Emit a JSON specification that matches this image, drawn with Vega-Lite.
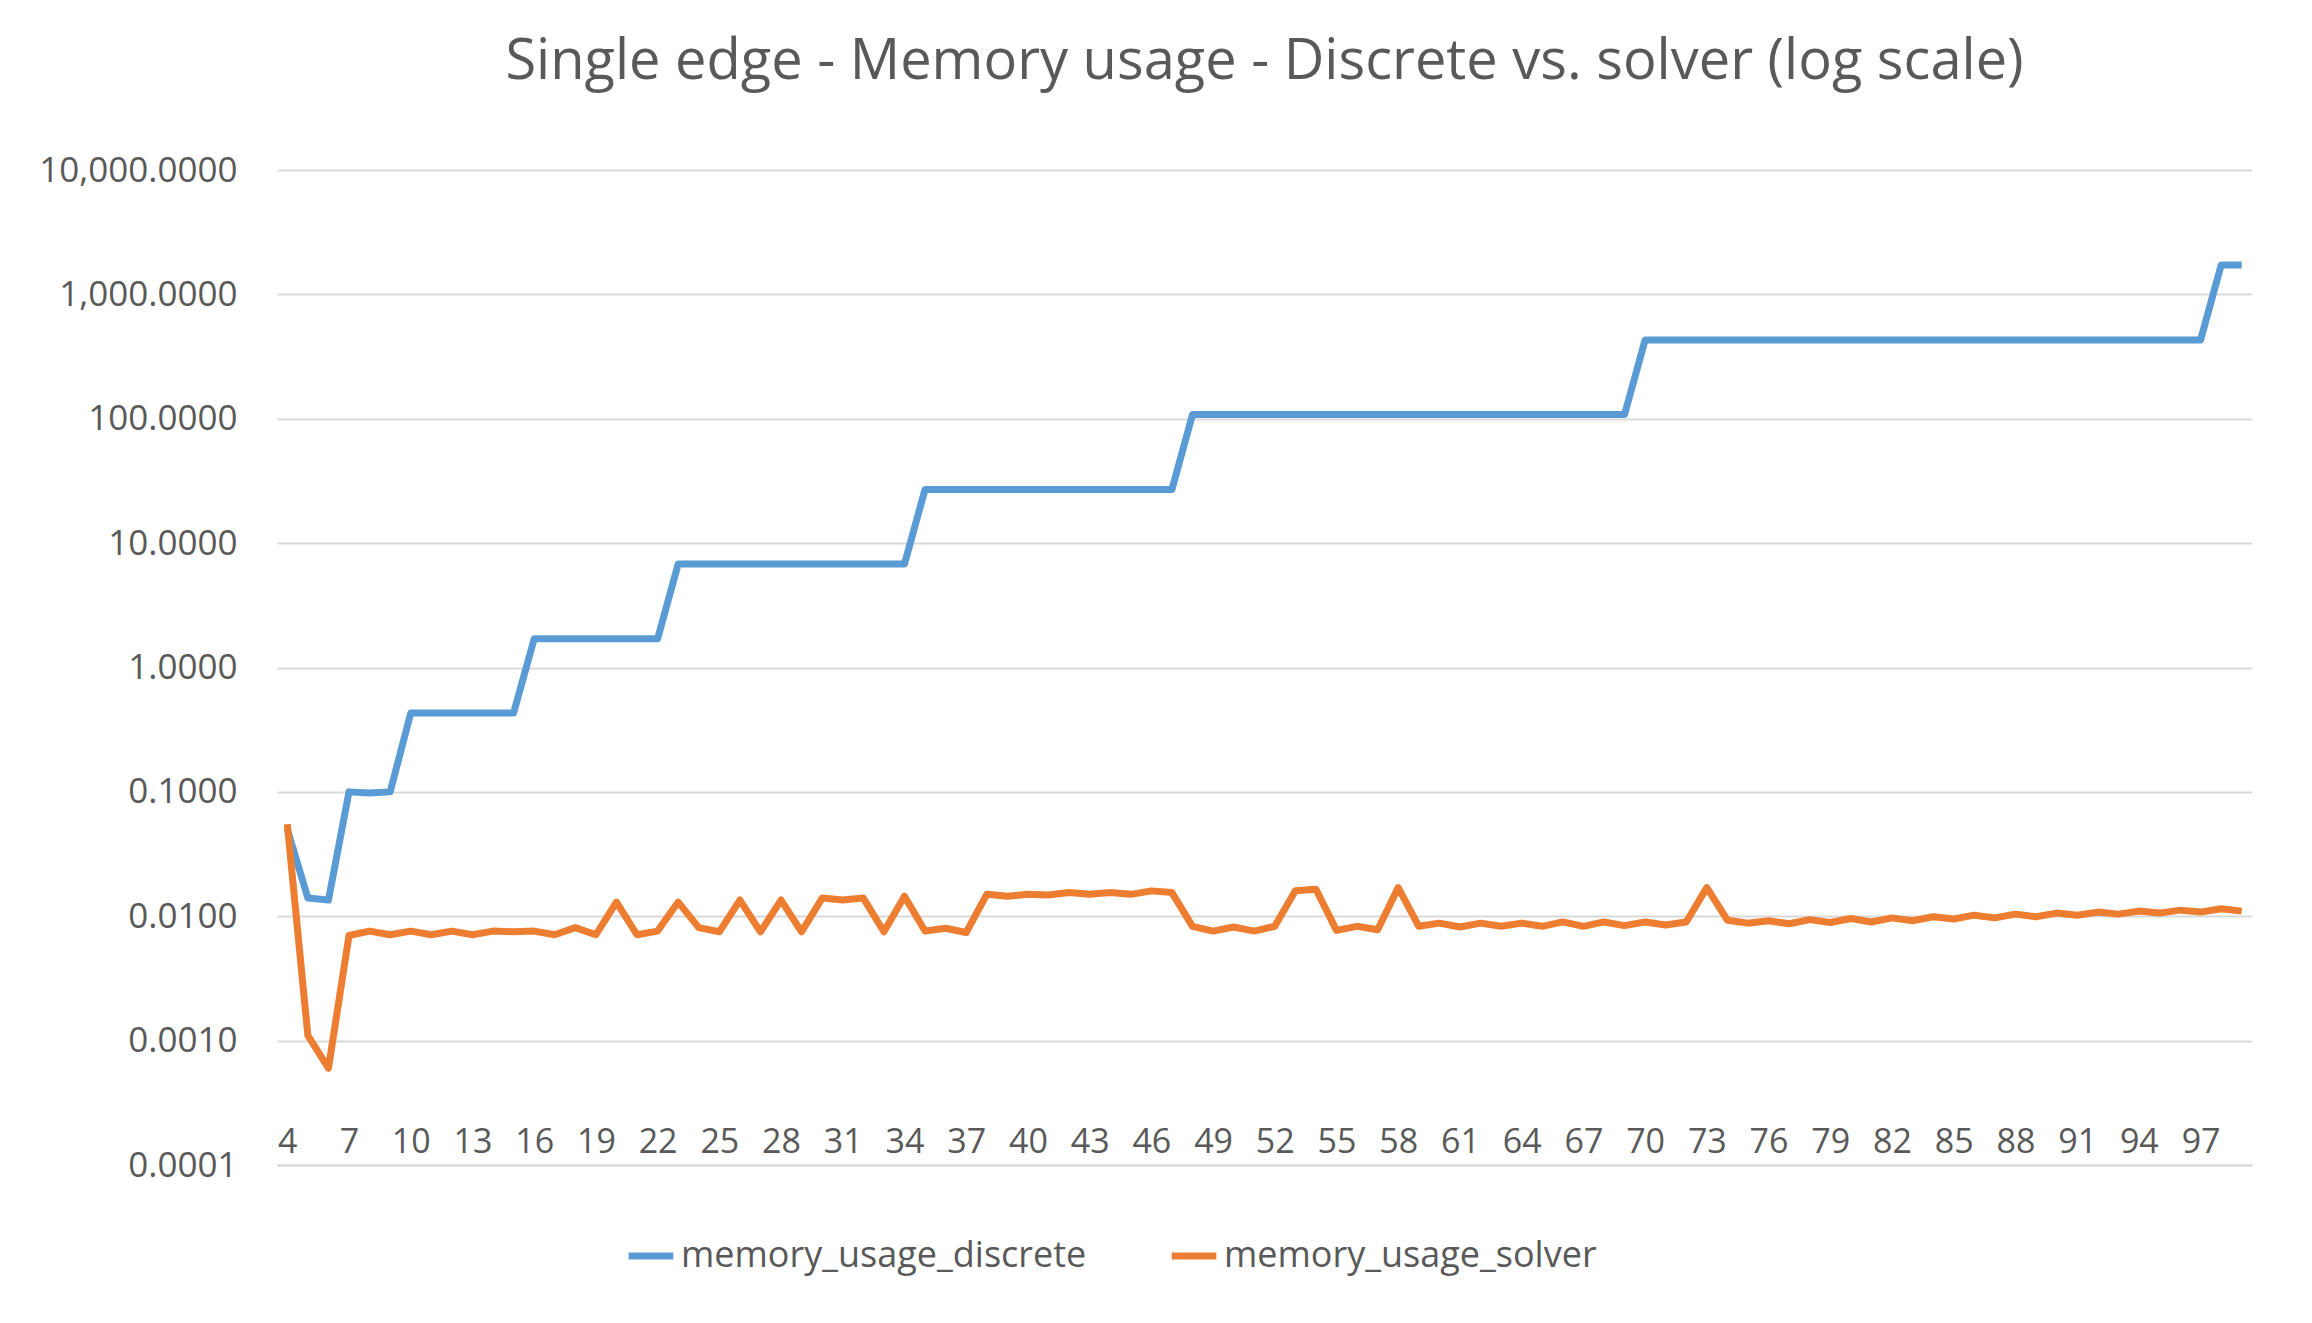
{
  "$schema": "https://vega.github.io/schema/vega-lite/v6.json",
  "width": 1975,
  "height": 995,
  "autosize": "none",
  "padding": {"left": 277, "top": 170, "right": 60, "bottom": 158},
  "background": "white",
  "title": {
    "text": "Single edge - Memory usage - Discrete vs. solver (log scale)",
    "fontSize": 56,
    "font": "Open Sans",
    "fontWeight": "normal",
    "color": "#595959",
    "offset": 62
  },
  "data": {
    "values": [
      {"n":4,"memory_usage_discrete":0.05,"memory_usage_solver":0.055},
      {"n":5,"memory_usage_discrete":0.014,"memory_usage_solver":0.0011},
      {"n":6,"memory_usage_discrete":0.0135,"memory_usage_solver":0.0006},
      {"n":7,"memory_usage_discrete":0.1,"memory_usage_solver":0.007},
      {"n":8,"memory_usage_discrete":0.098,"memory_usage_solver":0.0076},
      {"n":9,"memory_usage_discrete":0.1,"memory_usage_solver":0.0071},
      {"n":10,"memory_usage_discrete":0.43,"memory_usage_solver":0.0076},
      {"n":11,"memory_usage_discrete":0.43,"memory_usage_solver":0.0071},
      {"n":12,"memory_usage_discrete":0.43,"memory_usage_solver":0.0076},
      {"n":13,"memory_usage_discrete":0.43,"memory_usage_solver":0.0071},
      {"n":14,"memory_usage_discrete":0.43,"memory_usage_solver":0.0076},
      {"n":15,"memory_usage_discrete":0.43,"memory_usage_solver":0.0075},
      {"n":16,"memory_usage_discrete":1.7,"memory_usage_solver":0.0076},
      {"n":17,"memory_usage_discrete":1.7,"memory_usage_solver":0.0071},
      {"n":18,"memory_usage_discrete":1.7,"memory_usage_solver":0.0081},
      {"n":19,"memory_usage_discrete":1.7,"memory_usage_solver":0.0071},
      {"n":20,"memory_usage_discrete":1.7,"memory_usage_solver":0.013},
      {"n":21,"memory_usage_discrete":1.7,"memory_usage_solver":0.0071},
      {"n":22,"memory_usage_discrete":1.7,"memory_usage_solver":0.0076},
      {"n":23,"memory_usage_discrete":6.8,"memory_usage_solver":0.013},
      {"n":24,"memory_usage_discrete":6.8,"memory_usage_solver":0.0081},
      {"n":25,"memory_usage_discrete":6.8,"memory_usage_solver":0.0075},
      {"n":26,"memory_usage_discrete":6.8,"memory_usage_solver":0.0135},
      {"n":27,"memory_usage_discrete":6.8,"memory_usage_solver":0.0075},
      {"n":28,"memory_usage_discrete":6.8,"memory_usage_solver":0.0135},
      {"n":29,"memory_usage_discrete":6.8,"memory_usage_solver":0.0075},
      {"n":30,"memory_usage_discrete":6.8,"memory_usage_solver":0.014},
      {"n":31,"memory_usage_discrete":6.8,"memory_usage_solver":0.0135},
      {"n":32,"memory_usage_discrete":6.8,"memory_usage_solver":0.014},
      {"n":33,"memory_usage_discrete":6.8,"memory_usage_solver":0.0075},
      {"n":34,"memory_usage_discrete":6.8,"memory_usage_solver":0.0145},
      {"n":35,"memory_usage_discrete":27,"memory_usage_solver":0.0076},
      {"n":36,"memory_usage_discrete":27,"memory_usage_solver":0.008},
      {"n":37,"memory_usage_discrete":27,"memory_usage_solver":0.0074},
      {"n":38,"memory_usage_discrete":27,"memory_usage_solver":0.015},
      {"n":39,"memory_usage_discrete":27,"memory_usage_solver":0.0145},
      {"n":40,"memory_usage_discrete":27,"memory_usage_solver":0.015},
      {"n":41,"memory_usage_discrete":27,"memory_usage_solver":0.0148},
      {"n":42,"memory_usage_discrete":27,"memory_usage_solver":0.0155},
      {"n":43,"memory_usage_discrete":27,"memory_usage_solver":0.015},
      {"n":44,"memory_usage_discrete":27,"memory_usage_solver":0.0155},
      {"n":45,"memory_usage_discrete":27,"memory_usage_solver":0.015},
      {"n":46,"memory_usage_discrete":27,"memory_usage_solver":0.016},
      {"n":47,"memory_usage_discrete":27,"memory_usage_solver":0.0155},
      {"n":48,"memory_usage_discrete":108,"memory_usage_solver":0.0083},
      {"n":49,"memory_usage_discrete":108,"memory_usage_solver":0.0076},
      {"n":50,"memory_usage_discrete":108,"memory_usage_solver":0.0082},
      {"n":51,"memory_usage_discrete":108,"memory_usage_solver":0.0076},
      {"n":52,"memory_usage_discrete":108,"memory_usage_solver":0.0083},
      {"n":53,"memory_usage_discrete":108,"memory_usage_solver":0.016},
      {"n":54,"memory_usage_discrete":108,"memory_usage_solver":0.0165},
      {"n":55,"memory_usage_discrete":108,"memory_usage_solver":0.0077},
      {"n":56,"memory_usage_discrete":108,"memory_usage_solver":0.0083},
      {"n":57,"memory_usage_discrete":108,"memory_usage_solver":0.0078},
      {"n":58,"memory_usage_discrete":108,"memory_usage_solver":0.017},
      {"n":59,"memory_usage_discrete":108,"memory_usage_solver":0.0083},
      {"n":60,"memory_usage_discrete":108,"memory_usage_solver":0.0088},
      {"n":61,"memory_usage_discrete":108,"memory_usage_solver":0.0082},
      {"n":62,"memory_usage_discrete":108,"memory_usage_solver":0.0088},
      {"n":63,"memory_usage_discrete":108,"memory_usage_solver":0.0083},
      {"n":64,"memory_usage_discrete":108,"memory_usage_solver":0.0088},
      {"n":65,"memory_usage_discrete":108,"memory_usage_solver":0.0083},
      {"n":66,"memory_usage_discrete":108,"memory_usage_solver":0.009},
      {"n":67,"memory_usage_discrete":108,"memory_usage_solver":0.0083},
      {"n":68,"memory_usage_discrete":108,"memory_usage_solver":0.009},
      {"n":69,"memory_usage_discrete":108,"memory_usage_solver":0.0084},
      {"n":70,"memory_usage_discrete":430,"memory_usage_solver":0.009},
      {"n":71,"memory_usage_discrete":430,"memory_usage_solver":0.0085},
      {"n":72,"memory_usage_discrete":430,"memory_usage_solver":0.009},
      {"n":73,"memory_usage_discrete":430,"memory_usage_solver":0.017},
      {"n":74,"memory_usage_discrete":430,"memory_usage_solver":0.0093},
      {"n":75,"memory_usage_discrete":430,"memory_usage_solver":0.0088},
      {"n":76,"memory_usage_discrete":430,"memory_usage_solver":0.0092},
      {"n":77,"memory_usage_discrete":430,"memory_usage_solver":0.0087},
      {"n":78,"memory_usage_discrete":430,"memory_usage_solver":0.0094},
      {"n":79,"memory_usage_discrete":430,"memory_usage_solver":0.0089},
      {"n":80,"memory_usage_discrete":430,"memory_usage_solver":0.0096},
      {"n":81,"memory_usage_discrete":430,"memory_usage_solver":0.009},
      {"n":82,"memory_usage_discrete":430,"memory_usage_solver":0.0097},
      {"n":83,"memory_usage_discrete":430,"memory_usage_solver":0.0092},
      {"n":84,"memory_usage_discrete":430,"memory_usage_solver":0.0099},
      {"n":85,"memory_usage_discrete":430,"memory_usage_solver":0.0095},
      {"n":86,"memory_usage_discrete":430,"memory_usage_solver":0.0102},
      {"n":87,"memory_usage_discrete":430,"memory_usage_solver":0.0097},
      {"n":88,"memory_usage_discrete":430,"memory_usage_solver":0.0104},
      {"n":89,"memory_usage_discrete":430,"memory_usage_solver":0.0099},
      {"n":90,"memory_usage_discrete":430,"memory_usage_solver":0.0106},
      {"n":91,"memory_usage_discrete":430,"memory_usage_solver":0.0102},
      {"n":92,"memory_usage_discrete":430,"memory_usage_solver":0.0108},
      {"n":93,"memory_usage_discrete":430,"memory_usage_solver":0.0104},
      {"n":94,"memory_usage_discrete":430,"memory_usage_solver":0.011},
      {"n":95,"memory_usage_discrete":430,"memory_usage_solver":0.0106},
      {"n":96,"memory_usage_discrete":430,"memory_usage_solver":0.0112},
      {"n":97,"memory_usage_discrete":430,"memory_usage_solver":0.0108},
      {"n":98,"memory_usage_discrete":1720,"memory_usage_solver":0.0115},
      {"n":99,"memory_usage_discrete":1720,"memory_usage_solver":0.011}
    ]
  },
  "transform": [
    {"fold": ["memory_usage_discrete", "memory_usage_solver"], "as": ["series", "value"]}
  ],
  "mark": {"type": "line", "strokeWidth": 7, "strokeJoin": "round"},
  "encoding": {
    "x": {
      "field": "n",
      "type": "quantitative",
      "scale": {"domain": [3.5, 99.5], "nice": false, "zero": false},
      "axis": {
        "title": null,
        "values": [4,7,10,13,16,19,22,25,28,31,34,37,40,43,46,49,52,55,58,61,64,67,70,73,76,79,82,85,88,91,94,97],
        "grid": false,
        "ticks": false,
        "domainColor": "#D9D9D9",
        "domainWidth": 2,
        "labelFontSize": 34,
        "labelPadding": -6,
        "labelBaseline": "bottom",
        "labelFlush": false
      }
    },
    "y": {
      "field": "value",
      "type": "quantitative",
      "scale": {"type": "log", "domain": [0.0001, 10000], "nice": false},
      "axis": {
        "title": null,
        "values": [0.0001, 0.001, 0.01, 0.1, 1, 10, 100, 1000, 10000],
        "format": ",.4f",
        "domain": false,
        "ticks": false,
        "gridColor": "#D9D9D9",
        "gridWidth": 2,
        "labelFontSize": 35,
        "labelLimit": 400,
        "labelPadding": 40
      }
    },
    "color": {
      "field": "series",
      "type": "nominal",
      "scale": {"range": ["#5B9BD5", "#ED7D31"]},
      "legend": {
        "title": null,
        "orient": "none",
        "direction": "horizontal",
        "legendX": 348,
        "legendY": 1060,
        "symbolType": "stroke",
        "symbolStrokeWidth": 7,
        "symbolSize": 2000,
        "labelFontSize": 36,
        "labelLimit": 600,
        "columnPadding": 70
      }
    }
  },
  "config": {
    "font": "Open Sans",
    "view": {"stroke": null},
    "axis": {"labelColor": "#595959", "labelFont": "Open Sans"},
    "legend": {"labelColor": "#595959", "labelFont": "Open Sans"}
  }
}
